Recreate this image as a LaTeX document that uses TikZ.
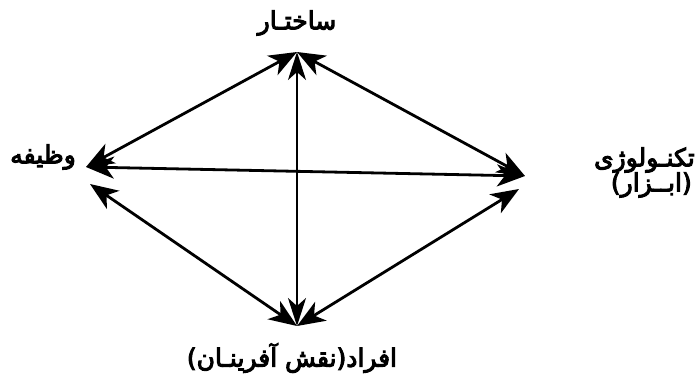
\documentclass[tikz,border=0pt]{standalone}
\usepackage{fontspec}
\usetikzlibrary{arrows.meta}
\TeXXeTstate=1
\newfontfamily\arabicfont[Script=Arabic, FakeBold=4]{DejaVu Sans}
\tikzset{
  lbl/.style={font=\arabicfont\fontsize{25}{29}\selectfont, inner sep=0pt},
  link/.style={line width=2.8pt, {Stealth[length=28pt,width=22pt,inset=8pt]}-{Stealth[length=28pt,width=22pt,inset=8pt]}},
  thin link/.style={line width=2.2pt, {Stealth[length=28pt,width=18pt,inset=8pt]}-{Stealth[length=28pt,width=18pt,inset=8pt]}}
}
\begin{document}
\begin{tikzpicture}[x=1pt,y=-1pt]
\useasboundingbox (0,0) rectangle (697,386);
% apex points
\coordinate (T) at (297,52);
\coordinate (Lt) at (86,167);
\coordinate (Lb) at (90,184);
\coordinate (Rt) at (525,176);
\coordinate (Rb) at (519,189);
\coordinate (B) at (297,326);
% labels
\node[lbl] (top) at (297,23) {\beginR ساختـار\endR};
\node[lbl] (left) at (43,157) {\beginR وظیفه\endR};
\node[lbl, anchor=east] (right1) at (695,160) {\beginR تکنـولوژی\endR};
\node[lbl, anchor=east] (right2) at (692,185) {\beginR (ابــزار)\endR};
\node[lbl] (bottom) at (292,358) {\beginR افراد(نقش آفرینـان)\endR};
% connectors
\draw[link] (Lt) -- (T);
\draw[link] (T) -- (Rt);
\draw[thin link] (T) -- (B);
\draw[link] (Lt) -- (Rt);
\draw[link] (Lb) -- (B);
\draw[link] (B) -- (Rb);
\end{tikzpicture}
\end{document}
